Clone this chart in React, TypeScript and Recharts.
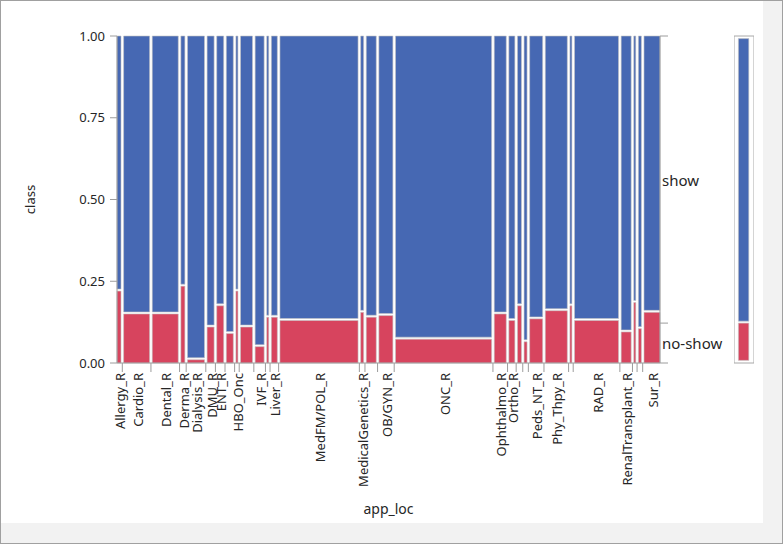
import React from 'react';
import { ComposedChart, XAxis, YAxis, ReferenceArea, Scatter } from 'recharts';

// app_loc categories (empty string = column whose label is hidden in the reference)
const categories = [
  'Allergy_R', 'Cardio_R', 'Dental_R', 'Derma_R', 'Dialysis_R', 'DMU_R', 'ENT_R', '',
  'HBO_Onc', '', 'IVF_R', '', 'Liver_R', 'MedFM/POL_R', 'MedicalGenetics_R', '',
  'OB/GYN_R', 'ONC_R', 'Ophthalmo_R', 'Ortho_R', '', '', 'Peds_NT_R', 'Phy_Thpy_R', '',
  'RAD_R', 'RenalTransplant_R', '', '', 'Sur_R',
];
// relative column widths (appointment counts share)
const columnCounts = [
  4, 26, 26, 4, 17, 7, 7, 7,
  2, 12, 9, 2, 6, 78, 3, 10,
  14, 96, 12, 6, 4, 3, 13, 22, 2,
  44, 10, 2, 3, 16,
];
// share of "no-show" within each column
const noShowShare = [
  0.22, 0.15, 0.15, 0.235, 0.01, 0.11, 0.175, 0.09,
  0.22, 0.11, 0.05, 0.14, 0.14, 0.13, 0.155, 0.14,
  0.145, 0.073, 0.15, 0.13, 0.175, 0.065, 0.135, 0.16, 0.175,
  0.13, 0.095, 0.185, 0.105, 0.155,
];
const yTicks = [0, 0.25, 0.5, 0.75, 1];
const classLabels = ['no-show', 'show'];
const overallNoShow = 0.122;

const GAP = 2.59;
const Y_GAP = 0.006;
const BLUE = '#4668B3';
const RED = '#D7445E';
const EDGE = '#c4c4c4';
const AXIS = '#9c9c9c';
const FONT = "'Noto Sans', 'DejaVu Sans', sans-serif";

type Col = { name: string; x0: number; x1: number; mid: number; p: number };
const cols: Col[] = (() => {
  let acc = 0;
  return categories.map((name, i) => {
    const x0 = acc;
    const x1 = acc + columnCounts[i];
    acc = x1 + GAP;
    return { name, x0, x1, mid: (x0 + x1) / 2, p: noShowShare[i] };
  });
})();
const total = cols[cols.length - 1].x1;
const boundaries = cols.slice(0, -1).map((c, i) => (c.x1 + cols[i + 1].x0) / 2);
const xTicks = [...cols.map((c) => c.mid), ...boundaries].sort((a, b) => a - b);

const XTick = (props: any) => {
  const { x, y, payload } = props;
  const v = payload.value;
  if (boundaries.some((b) => Math.abs(b - v) < 1e-6)) {
    return <line x1={x} x2={x} y1={y} y2={y + 9} stroke={AXIS} strokeWidth={1} />;
  }
  const c = cols.find((cc) => Math.abs(cc.mid - v) < 1e-6);
  if (!c || !c.name) return <g />;
  const tx = x + 1;
  const ty = y + 10;
  return (
    <text
      x={tx}
      y={ty}
      transform={`rotate(-90, ${tx}, ${ty})`}
      textAnchor="end"
      dominantBaseline="central"
      fontSize={13}
      fontFamily={FONT}
      fill="#262626"
    >
      {c.name}
    </text>
  );
};

const rightTicks = [0, overallNoShow / 2, overallNoShow, (1 + overallNoShow) / 2, 1];
const RTick = (props: any) => {
  const { x, y, payload } = props;
  const v = payload.value;
  if (v === 0 || v === 1 || Math.abs(v - overallNoShow) < 1e-9) {
    return <line x1={x} x2={x + 8} y1={y} y2={y} stroke={AXIS} strokeWidth={1} />;
  }
  const label = v < overallNoShow ? classLabels[0] : classLabels[1];
  return (
    <text x={x + 2} y={y} dominantBaseline="central" fontSize={15} fontFamily={FONT} fill="#262626">
      {label}
    </text>
  );
};

const overallData = [{ x: 0.5, y: overallNoShow }];

export default function App() {
  return (
    <div
      style={{
        position: 'absolute',
        left: 0,
        top: 0,
        width: 783,
        height: 544,
        background: '#f2f2f2',
        border: '1px solid #a0a0a0',
        boxSizing: 'border-box',
        overflow: 'hidden',
      }}
    >
      <div style={{ position: 'absolute', left: 0, top: 0, width: 762, height: 522, background: '#ffffff' }} />
      <div style={{ position: 'absolute', left: -1, top: -1 }}>
        <ComposedChart
          width={783}
          height={544}
          data={cols}
          margin={{ top: 36, right: 0, bottom: 0, left: 0 }}
        >
          <XAxis
            type="number"
            dataKey="mid"
            domain={[0, total]}
            ticks={xTicks}
            interval={0}
            height={181}
            tickSize={0}
            tickMargin={0}
            tickLine={false}
            axisLine={{ stroke: AXIS }}
            tick={<XTick />}
            allowDataOverflow
            label={{ value: 'app_loc', position: 'insideBottom', offset: 30, fontSize: 14, fill: '#262626', fontFamily: FONT }}
          />
          <YAxis
            yAxisId="l"
            type="number"
            domain={[0, 1]}
            ticks={yTicks}
            interval={0}
            width={117}
            tickSize={7}
            tickMargin={5}
            tickFormatter={(v: number) => v.toFixed(2)}
            tick={{ fontSize: 13, fill: '#262626', fontFamily: FONT }}
            tickLine={{ stroke: AXIS }}
            axisLine={{ stroke: AXIS }}
            label={{
              value: 'class',
              angle: -90,
              position: 'insideLeft',
              offset: 30,
              fontSize: 13,
              fill: '#262626',
              fontFamily: FONT,
              style: { textAnchor: 'middle' },
            }}
          />
          <YAxis
            yAxisId="r"
            orientation="right"
            type="number"
            domain={[0, 1]}
            ticks={rightTicks}
            interval={0}
            width={123}
            tickSize={0}
            tickMargin={0}
            tickLine={false}
            axisLine={{ stroke: AXIS }}
            tick={<RTick />}
            allowDataOverflow
          />
          {cols.map((c, i) => (
            <ReferenceArea
              key={`r${i}`}
              yAxisId="l"
              x1={c.x0}
              x2={c.x1}
              y1={0}
              y2={c.p}
              fill={RED}
              fillOpacity={1}
              stroke={EDGE}
              strokeWidth={0.6}
              ifOverflow="visible"
            />
          ))}
          {cols.map((c, i) => (
            <ReferenceArea
              key={`b${i}`}
              yAxisId="l"
              x1={c.x0}
              x2={c.x1}
              y1={c.p + Y_GAP}
              y2={1}
              fill={BLUE}
              fillOpacity={1}
              stroke={EDGE}
              strokeWidth={0.6}
              ifOverflow="visible"
            />
          ))}
          <Scatter
            yAxisId="l"
            data={cols}
            dataKey="p"
            fill="none"
            isAnimationActive={false}
            shape={() => <g />}
          />
          <Scatter
            yAxisId="r"
            data={cols}
            dataKey="p"
            fill="none"
            isAnimationActive={false}
            shape={() => <g />}
          />
        </ComposedChart>
      </div>
      <div style={{ position: 'absolute', left: 733, top: -1 }}>
        <ComposedChart width={20} height={544} data={overallData} margin={{ top: 36, right: 0, bottom: 181, left: 0 }}>
          <XAxis type="number" dataKey="x" domain={[0, 1]} hide />
          <YAxis type="number" domain={[0, 1]} hide />
          <ReferenceArea x1={0} x2={1} y1={0} y2={1} fill="#ffffff" fillOpacity={1} stroke="#a8a8a8" strokeWidth={1} ifOverflow="visible" />
          <ReferenceArea x1={0.22} x2={0.74} y1={0.008} y2={overallNoShow} fill={RED} fillOpacity={1} stroke={EDGE} strokeWidth={0.6} ifOverflow="visible" />
          <ReferenceArea x1={0.22} x2={0.74} y1={overallNoShow + Y_GAP} y2={0.992} fill={BLUE} fillOpacity={1} stroke={EDGE} strokeWidth={0.6} ifOverflow="visible" />
          <Scatter data={overallData} dataKey="y" fill="none" isAnimationActive={false} shape={() => <g />} />
        </ComposedChart>
      </div>
    </div>
  );
}
